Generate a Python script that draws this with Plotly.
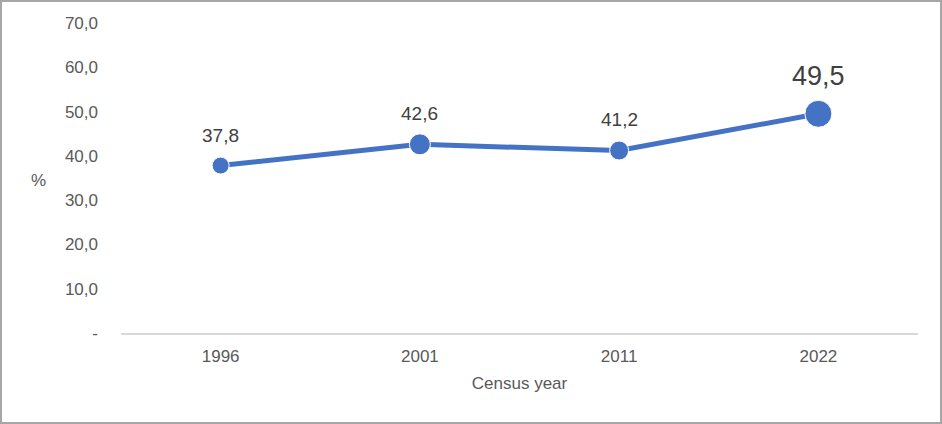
import plotly.graph_objects as go

""" ----------------DADOS---------------- """
years = ["1996", "2001", "2011", "2022"]
share = [37.8, 42.6, 41.2, 49.5]
label_text = ["37,8", "42,6", "41,2", "49,5"]
y_tickvals = [0, 10, 20, 30, 40, 50, 60, 70]
y_ticktext = ["-", "10,0", "20,0", "30,0", "40,0", "50,0", "60,0", "70,0"]

""" ----------------ESTILO---------------- """
W, H = 942, 424
ML, MR, MT, MB = 121, 24, 23, 91
BLUE = "#4472C4"
FONT = "Liberation Sans, Arial"
marker_sizes = [17, 21, 19, 27]
label_sizes = [19, 19, 19, 27]
label_shift = [30, 31, 31, 38]

fig = go.Figure()
fig.add_trace(go.Scatter(
    x=years, y=share,
    mode="lines+markers",
    line=dict(color=BLUE, width=5),
    marker=dict(color=BLUE, size=marker_sizes, opacity=1),
    cliponaxis=False,
    hoverinfo="skip",
))

# rótulos de dados acima dos pontos (posição = índice da categoria)
for i, (y, t, s, d) in enumerate(zip(share, label_text, label_sizes, label_shift)):
    fig.add_annotation(
        x=i, y=y, xref="x", yref="y", text=t, showarrow=False,
        xanchor="center", yanchor="middle", yshift=d,
        font=dict(family=FONT, size=s, color="#404040"),
    )

# moldura cinza em volta da figura
pw, ph = W - ML - MR, H - MT - MB
fig.add_shape(
    type="rect", xref="paper", yref="paper",
    x0=-(ML - 1) / pw, x1=1 + (MR - 1) / pw,
    y0=-(MB - 1) / ph, y1=1 + (MT - 1) / ph,
    line=dict(color="#A6A6A6", width=2),
)

fig.add_annotation(
    text="%", xref="paper", yref="paper",
    x=-(ML - 38) / pw, y=(333 - 180) / ph,
    showarrow=False, xanchor="center", yanchor="middle",
    font=dict(family=FONT, size=17, color="#595959"),
)

fig.update_layout(
    width=W, height=H,
    margin=dict(l=ML, r=MR, t=MT, b=MB),
    paper_bgcolor="white", plot_bgcolor="white",
    showlegend=False,
    font=dict(family=FONT, size=17, color="#595959"),
    xaxis=dict(
        type="category", range=[-0.5, 3.5],
        showgrid=False, zeroline=False,
        showline=True, linecolor="#D9D9D9", linewidth=1.5,
        ticks="", ticklabelstandoff=7,
        title=dict(text="Census year", standoff=12,
                   font=dict(size=17, color="#595959")),
    ),
    yaxis=dict(
        range=[0, 70], tickvals=y_tickvals, ticktext=y_ticktext,
        showgrid=False, zeroline=False, showline=False,
        ticks="", ticklabelstandoff=22,
    ),
)

fig.write_html("out.html", config={"displayModeBar": False},
               post_script="document.body.style.margin='0';")
